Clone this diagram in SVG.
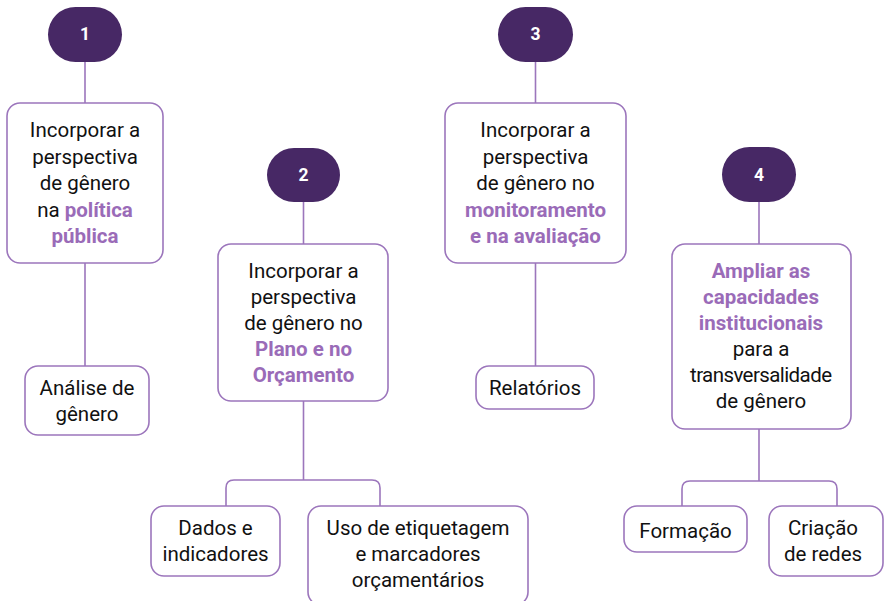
<svg xmlns="http://www.w3.org/2000/svg" width="884" height="601" viewBox="0 0 884 601">
<style>
.box{fill:#fff;stroke:#9c76bc;stroke-width:1.6}
.pill{fill:#472865}
.num{font-family:Roboto,"Liberation Sans",sans-serif;font-size:17.5px;font-weight:bold;fill:#fff;text-anchor:middle}
.t{font-family:Roboto,"Liberation Sans",sans-serif;font-size:20.5px;fill:#111;text-anchor:middle}
.b{font-weight:bold;fill:#9a6bb8}
.c{fill:none;stroke:#9c76bc;stroke-width:1.6}
</style>
<rect width="884" height="601" fill="#fff"/>
<g id="connectors">
<path class="c" d="M85,62 V103 M85,263 V366"/>
<path class="c" d="M303.5,202 V244 M303.5,401 V480 M226,506 V488 Q226,480 234,480 H372 Q380,480 380,488 V506"/>
<path class="c" d="M535.5,62 V103 M535.5,263 V366"/>
<path class="c" d="M759,202 V244 M759,429 V481 M682,506 V489 Q682,481 690,481 H829 Q837,481 837,489 V506"/>
</g>
<g id="n1"><rect class="pill" x="48" y="7" width="74" height="55" rx="27.5"/><text class="num" x="85" y="40">1</text></g>
<g id="n2"><rect class="pill" x="267" y="148" width="73" height="54" rx="27"/><text class="num" x="303.5" y="181">2</text></g>
<g id="n3"><rect class="pill" x="498" y="7" width="75" height="55" rx="27.5"/><text class="num" x="535.5" y="40">3</text></g>
<g id="n4"><rect class="pill" x="722" y="147" width="74" height="55" rx="27.5"/><text class="num" x="759" y="181">4</text></g>
<g id="b1"><rect class="box" x="7" y="103" width="156" height="160" rx="13"/>
<text class="t" x="85" y="137">Incorporar a</text>
<text class="t" x="85" y="164">perspectiva</text>
<text class="t" x="85" y="190">de gênero</text>
<text class="t" x="85" y="217">na <tspan class="b">política</tspan></text>
<text class="t b" x="85" y="243">pública</text></g>
<g id="b2"><rect class="box" x="218" y="244" width="170" height="157" rx="13"/>
<text class="t" x="303.5" y="278">Incorporar a</text>
<text class="t" x="303.5" y="304">perspectiva</text>
<text class="t" x="303.5" y="330">de gênero no</text>
<text class="t b" x="303.5" y="356">Plano e no</text>
<text class="t b" x="303.5" y="382">Orçamento</text></g>
<g id="b3"><rect class="box" x="445" y="103" width="181" height="160" rx="13"/>
<text class="t" x="535.5" y="137">Incorporar a</text>
<text class="t" x="535.5" y="164">perspectiva</text>
<text class="t" x="535.5" y="190">de gênero no</text>
<text class="t b" x="535.5" y="217">monitoramento</text>
<text class="t b" x="535.5" y="243">e na avaliação</text></g>
<g id="b4"><rect class="box" x="672" y="244" width="179" height="185" rx="13"/>
<text class="t b" x="761" y="278">Ampliar as</text>
<text class="t b" x="761" y="304">capacidades</text>
<text class="t b" x="761" y="330">institucionais</text>
<text class="t" x="761" y="356">para a</text>
<text class="t" x="761" y="382" textLength="142">transversalidade</text>
<text class="t" x="761" y="408">de gênero</text></g>
<g id="analise"><rect class="box" x="25" y="366" width="124" height="69" rx="13"/>
<text class="t" x="87" y="395">Análise de</text>
<text class="t" x="87" y="421">gênero</text></g>
<g id="relatorios"><rect class="box" x="476" y="366" width="118" height="43" rx="13"/>
<text class="t" x="535" y="395">Relatórios</text></g>
<g id="dados"><rect class="box" x="151" y="506" width="129" height="70" rx="13"/>
<text class="t" x="215.5" y="535">Dados e</text>
<text class="t" x="215.5" y="561">indicadores</text></g>
<g id="uso"><rect class="box" x="308" y="506" width="220" height="99" rx="13"/>
<text class="t" x="418" y="535">Uso de etiquetagem</text>
<text class="t" x="418" y="561">e marcadores</text>
<text class="t" x="418" y="587">orçamentários</text></g>
<g id="formacao"><rect class="box" x="624" y="506" width="123" height="46" rx="13"/>
<text class="t" x="685.5" y="538">Formação</text></g>
<g id="criacao"><rect class="box" x="769" y="506" width="114" height="70" rx="13"/>
<text class="t" x="823" y="535">Criação</text>
<text class="t" x="823" y="561">de redes</text></g>
</svg>
